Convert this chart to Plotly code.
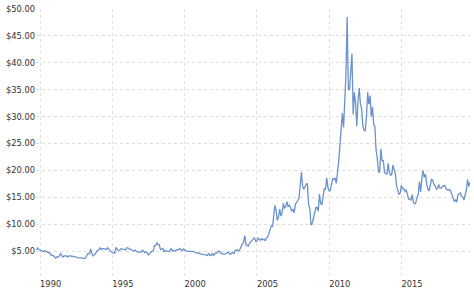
import plotly.graph_objects as go

start_year = 1989
start_month = 10

prices_1989 = [5.2, 5.6, 5.3]
prices_1990 = [5.2, 5.2, 5.0, 4.9, 5.1, 4.9, 4.9, 4.7, 4.7, 4.3, 4.2, 4.2]
prices_1991 = [3.9, 3.7, 3.9, 3.9, 4.1, 4.5, 4.2, 3.9, 4.1, 4.1, 4.1, 3.9]
prices_1992 = [4.1, 4.1, 4.0, 4.0, 4.0, 4.0, 3.9, 3.8, 3.8, 3.75, 3.7, 3.7]
prices_1993 = [3.65, 3.6, 3.9, 4.4, 4.6, 4.5, 5.4, 4.6, 4.1, 4.3, 4.5, 5.0]
prices_1994 = [5.1, 5.3, 5.6, 5.3, 5.5, 5.4, 5.3, 5.3, 5.6, 5.3, 5.1, 4.9]
prices_1995 = [4.7, 4.6, 4.6, 5.7, 5.4, 5.1, 5.1, 5.4, 5.4, 5.3, 5.3, 5.2]
prices_1996 = [5.6, 5.6, 5.4, 5.4, 5.3, 5.1, 5.0, 5.2, 5.0, 4.8, 4.8, 4.8]
prices_1997 = [4.8, 5.2, 5.0, 4.7, 4.8, 4.7, 4.3, 4.5, 4.7, 5.0, 5.0, 6.0]
prices_1998 = [6.0, 6.6, 6.2, 6.2, 5.3, 5.4, 5.5, 4.9, 5.1, 5.0, 5.0, 4.9]
prices_1999 = [5.2, 5.5, 5.0, 5.1, 5.0, 5.1, 5.3, 5.2, 5.5, 5.3, 5.1, 5.4]
prices_2000 = [5.2, 5.1, 5.0, 5.0, 5.0, 5.0, 4.9, 4.9, 4.9, 4.7, 4.7, 4.6]
prices_2001 = [4.6, 4.5, 4.4, 4.4, 4.4, 4.3, 4.3, 4.2, 4.6, 4.2, 4.2, 4.6]
prices_2002 = [4.2, 4.5, 4.7, 4.6, 5.0, 4.9, 4.6, 4.5, 4.5, 4.4, 4.5, 4.7]
prices_2003 = [4.8, 4.6, 4.4, 4.6, 4.8, 4.5, 5.1, 5.2, 5.2, 5.0, 5.3, 5.9]
prices_2004 = [6.3, 6.7, 7.9, 6.1, 6.1, 5.9, 6.5, 6.8, 7.0, 7.3, 7.5, 6.8]
prices_2005 = [6.8, 7.4, 7.2, 7.0, 7.3, 7.1, 7.2, 6.9, 7.5, 7.6, 8.3, 8.9]
prices_2006 = [9.7, 9.6, 11.5, 13.5, 12.6, 10.7, 11.3, 12.8, 11.5, 12.1, 13.9, 12.9]
prices_2007 = [13.4, 14.2, 13.3, 13.5, 13.1, 12.4, 12.8, 12.1, 13.7, 14.2, 14.4, 14.8]
prices_2008 = [16.8, 19.7, 17.1, 16.5, 16.9, 17.5, 17.5, 13.6, 12.9, 9.8, 10.2, 11.3]
prices_2009 = [12.6, 13.1, 13.1, 12.4, 15.6, 13.9, 13.6, 14.8, 16.6, 16.4, 18.6, 16.9]
prices_2010 = [16.2, 16.3, 17.4, 18.5, 18.3, 18.6, 17.6, 19.4, 21.8, 24.7, 28.2, 30.6]
prices_2011 = [28.0, 33.8, 37.7, 48.5, 35.0, 35.0, 39.0, 41.7, 30.4, 34.5, 32.5, 28.2]
prices_2012 = [33.0, 35.3, 32.5, 31.4, 28.3, 27.5, 27.3, 30.0, 34.5, 32.3, 33.9, 30.0]
prices_2013 = [31.8, 28.5, 28.3, 23.8, 22.3, 19.7, 19.7, 24.0, 21.7, 21.9, 19.6, 19.5]
prices_2014 = [19.3, 21.3, 19.7, 19.1, 19.2, 21.0, 20.4, 19.4, 17.1, 16.3, 15.5, 15.8]
prices_2015 = [17.2, 16.6, 16.6, 16.1, 16.4, 15.6, 14.7, 14.6, 14.5, 15.5, 14.1, 13.8]
prices_2016 = [14.0, 15.0, 15.4, 17.9, 16.0, 18.5, 20.0, 18.7, 19.3, 17.5, 16.5, 16.2]
prices_2017 = [17.2, 18.3, 18.2, 17.4, 17.2, 16.5, 16.6, 17.4, 16.7, 16.7, 17.0, 17.1]
prices_2018 = [17.2, 16.6, 16.4, 16.4, 16.4, 16.1, 15.5, 14.5, 14.2, 14.6, 14.1, 15.5]
prices_2019 = [15.7, 15.8, 15.2, 15.0, 14.5, 15.3, 16.4, 18.3, 17.0, 17.8]

all_prices = (prices_1989 + prices_1990 + prices_1991 + prices_1992 + prices_1993 +
              prices_1994 + prices_1995 + prices_1996 + prices_1997 + prices_1998 +
              prices_1999 + prices_2000 + prices_2001 + prices_2002 + prices_2003 +
              prices_2004 + prices_2005 + prices_2006 + prices_2007 + prices_2008 +
              prices_2009 + prices_2010 + prices_2011 + prices_2012 + prices_2013 +
              prices_2014 + prices_2015 + prices_2016 + prices_2017 + prices_2018 +
              prices_2019)

dates = []
y, m = start_year, start_month
for _ in all_prices:
    dates.append(f"{y:04d}-{m:02d}-01")
    m += 1
    if m > 12:
        m = 1
        y += 1

y_tick_values = [0, 5, 10, 15, 20, 25, 30, 35, 40, 45, 50]
y_tick_labels = [""] + [f"${v:.2f}" for v in y_tick_values[1:]]
x_tick_values = ["1990-01-01", "1995-01-01", "2000-01-01", "2005-01-01", "2010-01-01", "2015-01-01"]
x_tick_labels = ["1990", "1995", "2000", "2005", "2010", "2015"]

fig = go.Figure()
fig.add_trace(go.Scatter(
    x=dates, y=all_prices, mode="lines",
    line=dict(color="#6a92cb", width=1.3),
    hoverinfo="x+y",
))

grid_color = "#dedede"
fig.update_layout(
    width=474, height=293,
    margin=dict(l=36, r=4, t=7, b=15),
    paper_bgcolor="white", plot_bgcolor="white",
    showlegend=False,
    font=dict(family="DejaVu Sans", size=8.3, color="#333333"),
    xaxis=dict(
        type="date",
        range=["1989-09-20", dates[-1]],
        tickvals=x_tick_values, ticktext=x_tick_labels,
        showgrid=True, gridcolor=grid_color, griddash="3px,3px", gridwidth=1,
        zeroline=False, showline=False, ticks="",
        ticklabelposition="outside right",
    ),
    yaxis=dict(
        range=[0, 50],
        tickvals=y_tick_values, ticktext=y_tick_labels,
        showgrid=True, gridcolor=grid_color, griddash="3px,3px", gridwidth=1,
        zeroline=False, showline=False, ticks="",
        ticklabelstandoff=0,
    ),
)

fig.write_html("out.html")
